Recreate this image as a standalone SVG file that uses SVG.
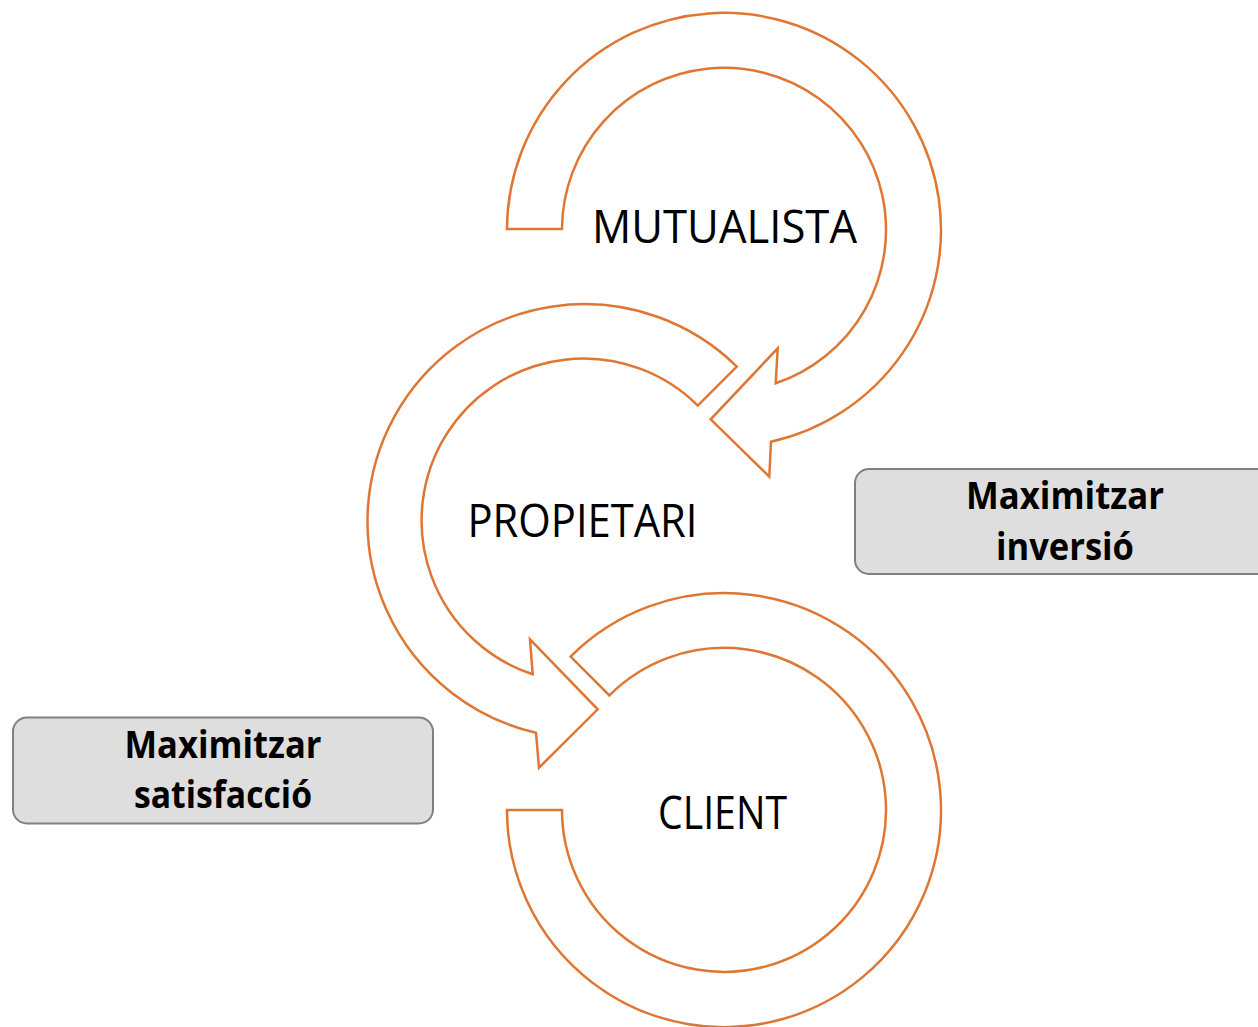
<svg xmlns="http://www.w3.org/2000/svg" width="1258" height="1027" viewBox="0 0 1258 1027">
<style>
.arrow{fill:#ffffff;stroke:#DF7733;stroke-width:2.5;stroke-linejoin:miter}
.box{fill:#dedede;stroke:#808080;stroke-width:2}
.lbl{font-family:"Open Sans","Noto Sans","Liberation Sans",sans-serif;font-size:45.5px;fill:#000000;text-anchor:middle}
.btxt{font-family:"Open Sans","Noto Sans","Liberation Sans",sans-serif;font-size:37.5px;font-weight:bold;fill:#000000;text-anchor:middle}
</style>
<rect width="1258" height="1027" fill="#ffffff"/>
<g id="connectors">
<path id="arrow-mutualista" class="arrow" d="M 507,229 A 217 217 0 1 1 771,441.7 L 769.3,476.7 L 710.7,419.3 L 777.7,348.3 L 775.7,383.3 A 162 162 0 1 0 562,229 Z"/>
<path id="arrow-propietari" class="arrow" d="M 736.8,366.6 A 217 217 0 1 0 536,732.7 L 539,767.7 L 597.7,709.3 L 530,639.3 L 532.7,674.3 A 162 162 0 1 1 697.8,405.6 Z"/>
<path id="arrow-client" class="arrow" d="M 570.6,656.6 A 217 217 0 1 1 507,810 L 562,810 A 162 162 0 1 0 609.4,695.4 Z"/>
</g>
<g id="node-mutualista">
<text class="lbl" x="724.5" y="243" textLength="265" lengthAdjust="spacingAndGlyphs">MUTUALISTA</text>
</g>
<g id="node-propietari">
<text class="lbl" x="582.5" y="537" textLength="230" lengthAdjust="spacingAndGlyphs">PROPIETARI</text>
</g>
<g id="node-client">
<text class="lbl" x="722.5" y="828.5" textLength="129" lengthAdjust="spacingAndGlyphs">CLIENT</text>
</g>
<g id="box-inversio">
<rect class="box" x="855" y="469" width="420" height="105" rx="14" ry="14"/>
<text class="btxt" x="1065" y="509.3" textLength="198" lengthAdjust="spacingAndGlyphs">Maximitzar</text>
<text class="btxt" x="1065" y="560" textLength="138" lengthAdjust="spacingAndGlyphs">inversió</text>
</g>
<g id="box-satisfaccio">
<rect class="box" x="13" y="717.5" width="420" height="106" rx="14" ry="14"/>
<text class="btxt" x="223" y="758.3" textLength="197" lengthAdjust="spacingAndGlyphs">Maximitzar</text>
<text class="btxt" x="223" y="808.3" textLength="178" lengthAdjust="spacingAndGlyphs">satisfacció</text>
</g>
</svg>
